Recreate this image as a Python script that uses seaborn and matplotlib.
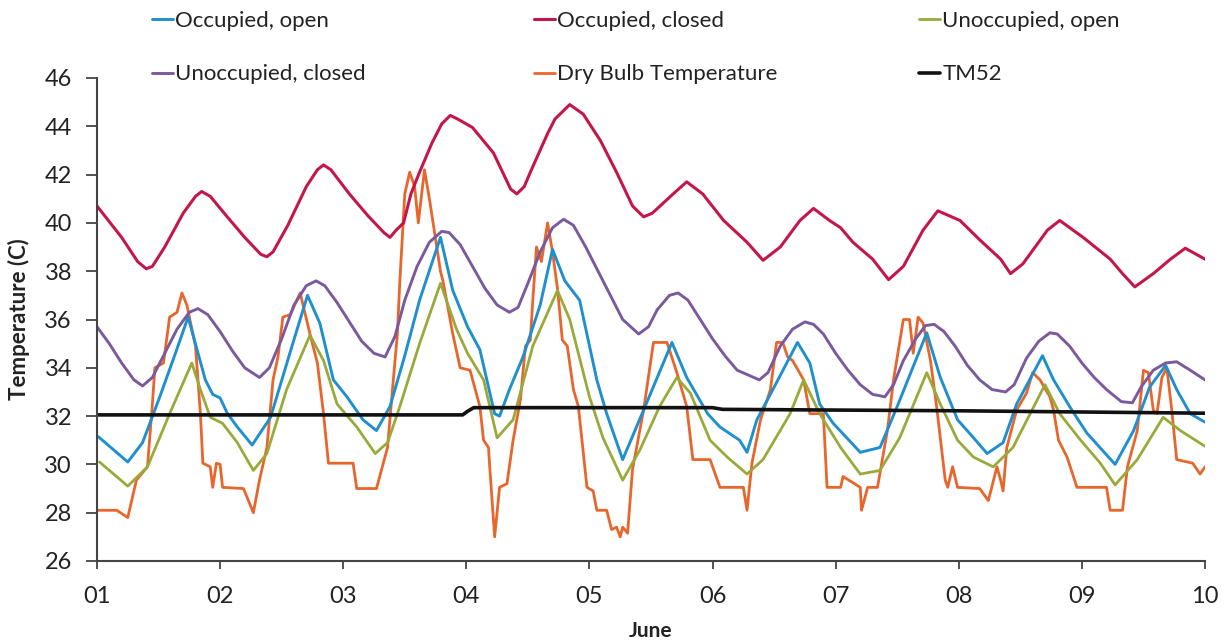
import numpy as np
import pandas as pd
import matplotlib
matplotlib.use("Agg")
import matplotlib.pyplot as plt
import seaborn as sns

# ---------------- data ----------------
occ_closed_day = [1.00, 1.20, 1.33, 1.40, 1.45, 1.55, 1.70, 1.80, 1.85, 1.92, 2.05, 2.20, 2.33, 2.38, 2.43,
                  2.55, 2.70, 2.79, 2.84, 2.90, 3.05, 3.20, 3.33, 3.38, 3.43, 3.49, 3.55, 3.62, 3.72, 3.80,
                  3.87, 3.93, 4.05, 4.22, 4.36, 4.41, 4.47, 4.52, 4.66, 4.72, 4.84, 4.95, 5.09, 5.22, 5.35,
                  5.44, 5.51, 5.68, 5.79, 5.92, 6.09, 6.28, 6.41, 6.55, 6.71, 6.82, 6.95, 7.04, 7.14, 7.30,
                  7.43, 7.55, 7.71, 7.83, 8.01, 8.17, 8.34, 8.42, 8.52, 8.72, 8.82, 9.01, 9.23, 9.33, 9.43,
                  9.58, 9.72, 9.84, 10.00]
occ_closed_temp = [40.7, 39.4, 38.4, 38.1, 38.2, 39.0, 40.4, 41.1, 41.3, 41.1, 40.3, 39.4, 38.7, 38.6, 38.8,
                   39.9, 41.5, 42.2, 42.4, 42.2, 41.2, 40.3, 39.6, 39.4, 39.7, 40.0, 41.2, 42.1, 43.3, 44.1,
                   44.45, 44.3, 43.95, 42.9, 41.4, 41.2, 41.5, 42.1, 43.7, 44.3, 44.9, 44.5, 43.4, 42.1, 40.7,
                   40.25, 40.4, 41.2, 41.7, 41.2, 40.1, 39.2, 38.45, 39.0, 40.1, 40.6, 40.1, 39.8, 39.2, 38.5,
                   37.65, 38.2, 39.7, 40.5, 40.1, 39.3, 38.5, 37.9, 38.3, 39.7, 40.1, 39.4, 38.5, 37.9, 37.35,
                   37.9, 38.5, 38.95, 38.5]

unocc_closed_day = [1.00, 1.10, 1.20, 1.30, 1.37, 1.45, 1.55, 1.65, 1.75, 1.82, 1.90, 2.00, 2.10, 2.20, 2.32,
                    2.40, 2.50, 2.60, 2.70, 2.78, 2.85, 2.95, 3.05, 3.15, 3.25, 3.34, 3.42, 3.50, 3.60, 3.70,
                    3.80, 3.86, 3.95, 4.05, 4.15, 4.25, 4.35, 4.42, 4.50, 4.60, 4.70, 4.79, 4.87, 4.97, 5.07,
                    5.17, 5.27, 5.40, 5.48, 5.55, 5.65, 5.72, 5.80, 5.90, 6.00, 6.10, 6.20, 6.38, 6.45, 6.55,
                    6.65, 6.75, 6.82, 6.90, 7.00, 7.10, 7.20, 7.30, 7.40, 7.47, 7.55, 7.65, 7.73, 7.80, 7.88,
                    7.97, 8.07, 8.17, 8.27, 8.38, 8.45, 8.55, 8.65, 8.74, 8.80, 8.90, 9.00, 9.10, 9.20, 9.32,
                    9.41, 9.48, 9.58, 9.68, 9.77, 9.88, 10.00]
unocc_closed_temp = [35.7, 35.0, 34.2, 33.5, 33.25, 33.6, 34.6, 35.6, 36.3, 36.45, 36.2, 35.5, 34.7, 34.0, 33.6,
                     34.0, 35.2, 36.6, 37.4, 37.6, 37.4, 36.7, 35.9, 35.1, 34.6, 34.45, 35.3, 36.8, 38.2, 39.2,
                     39.65, 39.6, 39.1, 38.2, 37.3, 36.6, 36.3, 36.5, 37.5, 38.8, 39.8, 40.15, 39.9, 39.0, 38.0,
                     37.0, 36.0, 35.4, 35.7, 36.4, 37.0, 37.1, 36.8, 36.0, 35.2, 34.5, 33.9, 33.5, 33.8, 34.9,
                     35.6, 35.9, 35.8, 35.4, 34.6, 33.9, 33.3, 32.9, 32.8, 33.3, 34.3, 35.2, 35.75, 35.8, 35.5,
                     34.9, 34.1, 33.5, 33.1, 33.0, 33.3, 34.4, 35.1, 35.45, 35.4, 34.9, 34.2, 33.6, 33.1, 32.6,
                     32.55, 33.2, 33.9, 34.2, 34.25, 33.9, 33.5]

occ_open_day = [1.01, 1.25, 1.37, 1.51, 1.63, 1.74, 1.88, 1.94, 2.00, 2.06, 2.14, 2.26, 2.41, 2.59, 2.71,
                2.81, 2.92, 3.03, 3.16, 3.27, 3.38, 3.50, 3.62, 3.79, 3.89, 4.01, 4.11, 4.23, 4.27, 4.35,
                4.46, 4.60, 4.70, 4.80, 4.92, 5.06, 5.14, 5.27, 5.44, 5.67, 5.79, 5.96, 6.06, 6.22, 6.28,
                6.36, 6.49, 6.69, 6.79, 6.87, 6.98, 7.09, 7.20, 7.36, 7.50, 7.74, 7.85, 7.99, 8.12, 8.23,
                8.36, 8.47, 8.68, 8.77, 8.90, 9.04, 9.27, 9.42, 9.55, 9.68, 9.77, 9.88, 10.00]
occ_open_temp = [31.15, 30.1, 30.9, 32.8, 34.5, 36.1, 33.5, 32.9, 32.75, 32.1, 31.55, 30.8, 31.95, 35.0, 37.0,
                 35.85, 33.5, 32.8, 31.85, 31.4, 32.4, 34.5, 36.8, 39.4, 37.2, 35.7, 34.75, 32.1, 32.0, 33.1,
                 34.45, 36.6, 38.9, 37.6, 36.8, 33.5, 32.1, 30.2, 32.25, 35.05, 33.6, 32.1, 31.55, 31.0, 30.5,
                 31.85, 33.1, 35.05, 34.2, 32.5, 31.7, 31.1, 30.5, 30.7, 32.4, 35.45, 33.6, 31.85, 31.1, 30.45,
                 30.9, 32.5, 34.5, 33.5, 32.4, 31.3, 30.0, 31.4, 33.2, 34.1, 33.1, 32.1, 31.75]

unocc_open_day = [1.02, 1.25, 1.41, 1.59, 1.77, 1.84, 1.92, 2.02, 2.14, 2.27, 2.38, 2.54, 2.73, 2.84, 2.95,
                  3.11, 3.26, 3.36, 3.46, 3.62, 3.79, 3.92, 4.01, 4.14, 4.25, 4.38, 4.54, 4.74, 4.84, 5.00,
                  5.11, 5.27, 5.41, 5.57, 5.71, 5.82, 5.98, 6.12, 6.28, 6.41, 6.63, 6.74, 6.87, 7.04, 7.20,
                  7.36, 7.52, 7.74, 7.85, 7.99, 8.12, 8.28, 8.44, 8.70, 8.82, 8.99, 9.15, 9.27, 9.45, 9.66,
                  9.80, 10.00]
unocc_open_temp = [30.1, 29.1, 29.9, 32.1, 34.2, 33.1, 31.95, 31.7, 30.9, 29.75, 30.45, 33.1, 35.35, 34.3, 32.5,
                   31.55, 30.45, 30.9, 32.4, 35.0, 37.5, 35.6, 34.6, 33.5, 31.1, 31.85, 34.9, 37.2, 36.0, 32.8,
                   31.1, 29.35, 30.6, 32.4, 33.6, 32.95, 31.0, 30.3, 29.6, 30.2, 32.1, 33.5, 32.1, 30.7, 29.6,
                   29.75, 31.1, 33.8, 32.5, 31.0, 30.3, 29.9, 30.7, 33.3, 32.1, 31.0, 30.05, 29.15, 30.2, 31.95,
                   31.4, 30.75]

dry_bulb_day = [1.01, 1.16, 1.25, 1.32, 1.41, 1.45, 1.47, 1.54, 1.59, 1.65, 1.69, 1.73, 1.80, 1.84, 1.86,
                1.92, 1.94, 1.97, 2.00, 2.02, 2.19, 2.27, 2.32, 2.38, 2.43, 2.47, 2.51, 2.57, 2.65, 2.73,
                2.79, 2.84, 2.88, 3.08, 3.11, 3.27, 3.36, 3.40, 3.44, 3.46, 3.50, 3.54, 3.58, 3.61, 3.66,
                3.70, 3.79, 3.81, 3.89, 3.95, 4.03, 4.11, 4.14, 4.18, 4.19, 4.23, 4.27, 4.33, 4.38, 4.44,
                4.48, 4.52, 4.54, 4.57, 4.61, 4.66, 4.70, 4.74, 4.78, 4.82, 4.87, 4.91, 4.98, 5.03, 5.06,
                5.14, 5.18, 5.22, 5.25, 5.27, 5.31, 5.35, 5.44, 5.52, 5.63, 5.71, 5.79, 5.84, 5.98, 6.06,
                6.25, 6.28, 6.32, 6.39, 6.47, 6.52, 6.57, 6.61, 6.65, 6.74, 6.79, 6.90, 6.93, 7.04, 7.06,
                7.20, 7.21, 7.26, 7.34, 7.42, 7.47, 7.55, 7.60, 7.63, 7.67, 7.71, 7.77, 7.82, 7.89, 7.91,
                7.95, 7.99, 8.17, 8.24, 8.31, 8.34, 8.36, 8.39, 8.47, 8.55, 8.60, 8.66, 8.74, 8.77, 8.81,
                8.88, 8.96, 9.20, 9.23, 9.33, 9.37, 9.45, 9.50, 9.54, 9.58, 9.61, 9.65, 9.69, 9.73, 9.77,
                9.90, 9.96, 10.00]
dry_bulb_temp = [28.1, 28.1, 27.8, 29.35, 29.9, 32.5, 34.0, 34.2, 36.1, 36.3, 37.1, 36.6, 34.9, 32.1, 30.05,
                 29.9, 29.05, 30.05, 30.0, 29.05, 29.0, 28.0, 29.35, 30.7, 33.5, 34.45, 36.1, 36.2, 37.1, 35.4,
                 34.2, 32.1, 30.05, 30.05, 29.0, 29.0, 30.7, 33.1, 35.4, 37.6, 41.2, 42.1, 41.5, 40.0, 42.2,
                 41.0, 38.0, 37.6, 35.4, 34.0, 33.9, 32.4, 31.0, 30.7, 29.9, 27.0, 29.05, 29.2, 31.0, 32.7,
                 34.9, 35.15, 36.8, 39.0, 38.4, 40.0, 38.8, 37.3, 35.15, 34.9, 33.1, 32.4, 29.05, 28.9, 28.1,
                 28.1, 27.3, 27.4, 27.0, 27.4, 27.15, 29.8, 32.25, 35.05, 35.05, 33.8, 32.4, 30.2, 30.2, 29.05,
                 29.05, 28.1, 30.05, 31.85, 33.1, 35.05, 35.05, 34.45, 34.3, 33.5, 32.1, 32.1, 29.05, 29.05, 29.5,
                 29.05, 28.1, 29.05, 29.05, 31.4, 33.5, 36.0, 36.0, 34.6, 36.1, 35.85, 34.3, 32.4, 29.35, 29.05,
                 29.9, 29.05, 29.0, 28.5, 29.9, 29.35, 28.9, 30.7, 32.25, 32.95, 33.8, 33.5, 32.8, 32.25, 31.0,
                 30.3, 29.05, 29.05, 28.1, 28.1, 29.9, 31.4, 33.9, 33.8, 32.25, 32.1, 33.6, 34.0, 32.25, 30.2,
                 30.05, 29.6, 29.9]

tm52_day = [1.00, 3.97, 4.01, 4.06, 6.00, 6.08, 7.00, 8.00, 9.00, 10.00]
tm52_temp = [32.05, 32.05, 32.2, 32.35, 32.35, 32.28, 32.25, 32.22, 32.17, 32.12]

series_names = ["Occupied, open", "Occupied, closed", "Unoccupied, open",
                "Unoccupied, closed", "Dry Bulb Temperature", "TM52"]
x_tick_values = [1, 2, 3, 4, 5, 6, 7, 8, 9, 10]
x_tick_labels = ["01", "02", "03", "04", "05", "06", "07", "08", "09", "10"]
y_tick_values = [26, 28, 30, 32, 34, 36, 38, 40, 42, 44, 46]

# ---------------- build long table ----------------
parts = [
    ("Occupied, open", occ_open_day, occ_open_temp),
    ("Occupied, closed", occ_closed_day, occ_closed_temp),
    ("Unoccupied, open", unocc_open_day, unocc_open_temp),
    ("Unoccupied, closed", unocc_closed_day, unocc_closed_temp),
    ("Dry Bulb Temperature", dry_bulb_day, dry_bulb_temp),
    ("TM52", tm52_day, tm52_temp),
]
frames = []
for name, d, t in parts:
    frames.append(pd.DataFrame({"series": name, "day": d, "temp": t}))
df = pd.concat(frames, ignore_index=True)

palette = {
    "Occupied, open": "#1f8fce",
    "Occupied, closed": "#c4164a",
    "Unoccupied, open": "#9aaa3a",
    "Unoccupied, closed": "#7a5a9c",
    "Dry Bulb Temperature": "#e8652c",
    "TM52": "#111111",
}
widths = {
    "Occupied, open": 2.1,
    "Occupied, closed": 2.2,
    "Unoccupied, open": 2.0,
    "Unoccupied, closed": 2.1,
    "Dry Bulb Temperature": 2.0,
    "TM52": 2.6,
}
draw_order = ["Dry Bulb Temperature", "Unoccupied, open", "Occupied, open",
              "Unoccupied, closed", "Occupied, closed", "TM52"]

sns.set_theme(style="white")
plt.rcParams["font.family"] = ["Lato", "DejaVu Sans"]

fig = plt.figure(figsize=(12.27, 6.44), dpi=100)
ax = fig.add_axes([97 / 1227, 1 - 561 / 644, (1205 - 97) / 1227, (561 - 78) / 644])

handles = {}
for name in draw_order:
    sub = df[df["series"] == name]
    sns.lineplot(data=sub, x="day", y="temp", ax=ax, color=palette[name],
                 linewidth=widths[name], sort=False, estimator=None, legend=False)
    handles[name] = ax.lines[-1]

ax.set_xlim(1, 10)
ax.set_ylim(26, 46)
ax.set_xticks(x_tick_values)
ax.set_xticklabels(x_tick_labels)
ax.set_yticks(y_tick_values)
ax.set_yticklabels([str(v) for v in y_tick_values])
ax.tick_params(axis="x", direction="out", length=6, width=1.3, color="#444444",
               labelsize=17, pad=12, bottom=True, labelcolor="#222222")
ax.tick_params(axis="y", direction="out", length=8, width=1.3, color="#444444",
               labelsize=17, pad=10, left=True, labelcolor="#222222")
for s in ["top", "right"]:
    ax.spines[s].set_visible(False)
for s in ["left", "bottom"]:
    ax.spines[s].set_color("#444444")
    ax.spines[s].set_linewidth(1.5)
ax.set_xlabel("June", fontsize=15, fontweight="bold", labelpad=10, color="#222222")
ax.set_ylabel("Temperature (C)", fontsize=16, fontweight="bold", labelpad=10, color="#222222")
ax.patch.set_alpha(0)

# legend: three columns of two rows each
cols = [("Occupied, open", "Unoccupied, closed"),
        ("Occupied, closed", "Dry Bulb Temperature"),
        ("Unoccupied, open", "TM52")]
col_x = [152 / 1227, 534 / 1227, 919 / 1227]
for cx, pair in zip(col_x, cols):
    leg = fig.legend([handles[p] for p in pair], list(pair), loc="upper left",
                     bbox_to_anchor=(cx, 1 - 11 / 644), frameon=False, fontsize=16,
                     handlelength=0.95, handletextpad=0.1, labelspacing=1.5,
                     borderaxespad=0, borderpad=0)
    for t in leg.get_texts():
        t.set_color("#222222")

fig.savefig("out.png", dpi=100, facecolor="white")
